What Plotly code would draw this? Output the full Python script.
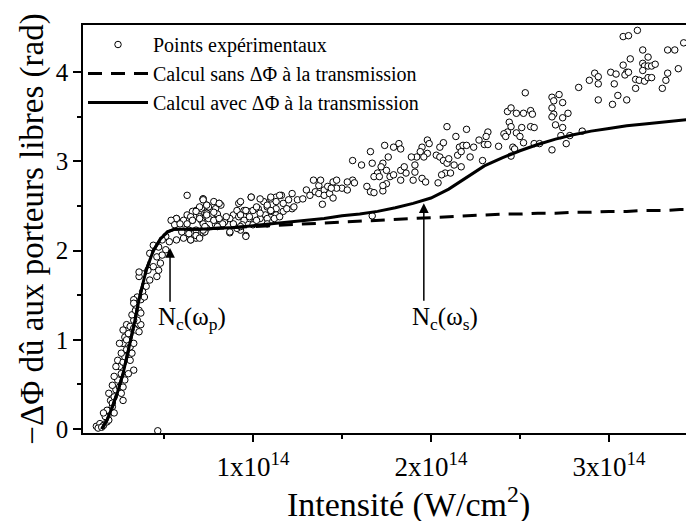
import plotly.graph_objects as go

FONT = "Liberation Serif, Times New Roman, Times, serif"

# ---- experimental points (x in units of 1e14 W/cm^2, y in rad) ----
pts_x = [
    # high-intensity region
    3.08, 3.11, 3.16, 3.19, 3.22, 3.33, 3.37, 3.42, 3.47, 3.12, 3.08, 3.19, 3.20, 3.22, 3.24, 3.26, 3.19,
    2.89, 2.92, 2.94, 2.94, 2.83, 3.01, 3.04, 3.03, 3.10, 3.09, 3.11, 3.15, 3.17, 3.20, 3.22, 3.24, 3.15,
    3.33, 3.32, 3.39, 3.30, 2.94, 3.02, 3.05, 3.10, 2.53, 2.68, 2.72, 2.69, 2.74, 2.68, 2.69, 2.77, 2.68,
    2.74, 2.70, 2.74, 2.73, 2.78, 2.85, 2.76, 2.68, 2.43, 2.45, 2.48, 2.52, 2.56, 2.57, 2.44, 2.45, 2.51,
    2.56, 2.58, 2.43, 2.41, 2.48, 2.42, 2.50, 2.52, 2.46, 2.47, 2.58, 2.61, 2.45, 2.32, 2.31, 2.30, 2.32,
    2.27, 2.38, 2.20, 2.14, 2.09, 2.29, 1.98, 1.99, 1.95, 1.94, 1.98, 1.92, 1.96, 2.03, 2.05, 2.07, 2.05,
    2.07, 2.09, 2.10, 2.13, 2.15, 2.16, 2.18, 2.20, 2.17, 2.22, 2.17, 2.24, 1.89, 1.91, 1.86, 1.83, 1.83,
    1.85, 1.82, 1.83, 1.79, 1.74, 1.76, 1.73, 1.72, 1.75, 1.70, 1.68, 1.64, 1.66, 1.68, 1.73, 1.75, 1.77,
    1.61, 1.67, 1.66, 1.56, 1.56, 1.57, 2.04, 2.08, 2.06, 2.11, 1.91, 1.95, 1.97, 1.90, 1.79, 1.73, 1.71,
    1.67,
    # middle region
    0.72, 0.71, 0.74, 0.76, 0.79, 0.81, 0.82, 0.73, 0.77, 0.80, 0.75, 0.78, 0.80, 0.71, 0.72, 0.74, 0.72,
    0.73, 0.82, 0.79, 0.92, 0.99, 0.89, 0.92, 0.95, 0.97, 1.00, 0.98, 0.95, 0.94, 0.87, 0.93, 0.96, 0.91,
    0.86, 0.84, 0.89, 1.03, 1.06, 1.08, 1.10, 1.13, 1.16, 1.17, 1.13, 1.10, 1.07, 1.04, 1.08, 1.13, 1.17,
    1.20, 1.22, 1.22, 1.23, 1.19, 1.12, 1.15, 1.25, 1.28, 1.30, 1.34, 1.37, 1.38, 1.40, 1.42, 1.45, 1.47,
    1.50, 1.53, 1.53, 1.35, 1.37, 1.40, 1.43, 1.45, 1.39, 1.32, 1.47, 1.44,
    # plateau start
    0.63, 0.72, 0.78, 0.81, 0.75, 0.68, 0.66, 0.63, 0.57, 0.70, 0.74, 0.78, 0.66, 0.61, 0.64, 0.68, 0.72,
    0.65, 0.68, 0.73, 0.78, 0.81, 0.83, 0.80, 0.93, 0.99, 1.04, 1.10, 1.15, 1.13, 1.08, 1.02, 0.96, 0.91,
    0.87, 0.93, 0.98, 1.04, 1.10, 0.87, 0.96, 0.93, 1.00, 0.85, 1.02, 1.08,
    # knee
    0.72, 0.70, 0.74, 0.68, 0.65, 0.61, 0.57, 0.54, 0.56, 0.59, 0.63, 0.66, 0.70, 0.74, 0.60, 0.64, 0.68,
    0.70, 0.65, 0.61, 0.57, 0.53, 0.51, 0.49, 0.47, 0.44, 0.42, 0.46, 0.49, 0.51, 0.48, 0.44, 0.41, 0.38,
    0.36, 0.46, 0.47, 0.42, 0.40, 0.38, 0.35, 0.33, 0.37, 0.39, 0.36,
    # steep rise
    0.12, 0.14, 0.16, 0.18, 0.13, 0.15, 0.19, 0.17, 0.20, 0.18, 0.21, 0.20, 0.19, 0.22, 0.23, 0.21, 0.25,
    0.24, 0.22, 0.26, 0.27, 0.25, 0.24, 0.27, 0.28, 0.26, 0.29, 0.31, 0.33, 0.27, 0.25, 0.28, 0.30, 0.27,
    0.29, 0.31, 0.33, 0.34, 0.36, 0.37, 0.35, 0.33, 0.32, 0.34, 0.34, 0.36, 0.37, 0.33, 0.27, 0.33, 0.31,
    0.30, 0.28, 0.23, 0.21, 0.16, 0.22, 0.26, 0.29, 0.32,
    # outlier
    0.465,
]
pts_y = [
    4.40, 4.41, 4.47, 4.25, 4.17, 4.25, 4.25, 4.33, 4.17, 4.15, 4.08, 4.10, 4.07, 4.07, 4.07, 4.09, 4.02,
    3.91, 3.99, 3.95, 3.87, 3.83, 4.00, 3.98, 3.87, 4.00, 3.97, 4.00, 3.92, 3.91, 3.90, 3.94, 3.94, 3.82,
    3.99, 3.91, 4.04, 3.82, 3.69, 3.64, 3.74, 3.69, 3.77, 3.72, 3.75, 3.68, 3.66, 3.60, 3.53, 3.54, 3.50,
    3.49, 3.41, 3.38, 3.29, 3.29, 3.34, 3.20, 3.13, 3.56, 3.60, 3.54, 3.54, 3.57, 3.53, 3.44, 3.39, 3.38,
    3.39, 3.38, 3.33, 3.31, 3.32, 3.28, 3.28, 3.21, 3.16, 3.14, 3.20, 3.20, 3.06, 3.33, 3.28, 3.19, 3.19,
    3.24, 3.17, 3.36, 3.28, 3.39, 3.01, 3.24, 3.20, 3.16, 3.11, 3.09, 3.05, 3.05, 3.07, 3.16, 3.21, 3.05,
    3.01, 2.98, 3.03, 2.96, 3.07, 3.16, 3.18, 3.18, 3.11, 3.05, 2.94, 3.16, 3.05, 2.96, 2.87, 2.79, 2.90,
    2.94, 3.20, 3.14, 3.16, 3.18, 3.05, 2.98, 2.94, 2.90, 2.87, 2.83, 2.72, 2.66, 2.65, 2.67, 2.75, 2.83,
    2.96, 2.98, 3.11, 3.01, 2.79, 2.76, 2.76, 2.87, 2.85, 2.87, 2.88, 2.81, 2.77, 2.79, 2.85, 2.73, 2.83,
    2.39,
    2.58, 2.47, 2.51, 2.45, 2.47, 2.53, 2.51, 2.42, 2.40, 2.41, 2.36, 2.34, 2.34, 2.34, 2.30, 2.25, 2.20,
    2.21, 2.32, 2.29, 2.53, 2.60, 2.40, 2.38, 2.45, 2.44, 2.45, 2.36, 2.34, 2.29, 2.20, 2.23, 2.17, 2.25,
    2.36, 2.32, 2.30, 2.47, 2.55, 2.49, 2.58, 2.60, 2.62, 2.53, 2.47, 2.44, 2.40, 2.36, 2.36, 2.40, 2.44,
    2.57, 2.64, 2.47, 2.49, 2.47, 2.36, 2.38, 2.57, 2.58, 2.68, 2.79, 2.73, 2.79, 2.68, 2.72, 2.77, 2.79,
    2.70, 2.77, 2.68, 2.66, 2.64, 2.62, 2.64, 2.59, 2.52, 2.62, 2.70, 2.70,
    2.62, 2.58, 2.55, 2.53, 2.49, 2.45, 2.44, 2.40, 2.36, 2.38, 2.42, 2.43, 2.34, 2.30, 2.23, 2.23, 2.23,
    2.12, 2.14, 2.27, 2.34, 2.36, 2.30, 2.27, 2.55, 2.60, 2.58, 2.60, 2.62, 2.55, 2.51, 2.49, 2.45, 2.45,
    2.36, 2.40, 2.38, 2.42, 2.45, 2.21, 2.16, 2.27, 2.29, 2.38, 2.34, 2.30,
    2.57, 2.49, 2.51, 2.44, 2.38, 2.34, 2.36, 2.34, 2.29, 2.30, 2.30, 2.34, 2.36, 2.40, 2.21, 2.19, 2.17,
    2.14, 2.12, 2.14, 2.12, 2.10, 2.16, 2.12, 2.04, 2.06, 1.97, 1.93, 1.95, 2.01, 1.86, 1.82, 1.78, 1.74,
    1.71, 1.71, 1.78, 1.67, 1.60, 1.54, 1.48, 1.45, 1.45, 1.48, 1.76,
    0.03, 0.06, 0.04, 0.08, 0.01, 0.02, 0.10, 0.14, 0.18, 0.21, 0.25, 0.32, 0.40, 0.36, 0.44, 0.49, 0.47,
    0.55, 0.59, 0.62, 0.47, 0.70, 0.77, 0.75, 0.81, 0.85, 0.89, 0.92, 0.96, 0.96, 0.96, 1.03, 1.07, 1.11,
    1.17, 1.15, 1.13, 1.11, 1.09, 1.17, 1.22, 1.22, 1.28, 1.33, 1.39, 1.33, 1.30, 1.41, 0.32, 0.66, 0.77,
    0.62, 0.55, 0.70, 0.29, 0.18, 0.18, 0.40, 1.00, 0.85,
    -0.02,
]

# ---- calculated curves ----
calc_x = [0.15, 0.18, 0.21, 0.24, 0.27, 0.30, 0.33, 0.36, 0.40, 0.44, 0.48, 0.52, 0.56, 0.62, 0.70,
          0.80, 0.90, 1.00, 1.10, 1.20, 1.30, 1.40, 1.50, 1.60, 1.70, 1.80, 1.90, 2.00, 2.10, 2.20,
          2.30, 2.40, 2.50, 2.60, 2.70, 2.80, 2.90, 3.00, 3.10, 3.20, 3.30, 3.40, 3.50]
calc_avec = [0.00, 0.10, 0.25, 0.42, 0.62, 0.88, 1.15, 1.45, 1.78, 2.00, 2.13, 2.21, 2.24, 2.24, 2.24,
             2.25, 2.26, 2.28, 2.30, 2.32, 2.34, 2.36, 2.39, 2.41, 2.44, 2.48, 2.53, 2.59, 2.69, 2.82,
             2.95, 3.04, 3.12, 3.19, 3.25, 3.30, 3.34, 3.37, 3.40, 3.42, 3.44, 3.46, 3.48]
calc_sans = [0.00, 0.10, 0.25, 0.42, 0.62, 0.88, 1.15, 1.45, 1.78, 2.00, 2.13, 2.21, 2.24, 2.24, 2.24,
             2.25, 2.26, 2.27, 2.28, 2.29, 2.30, 2.31, 2.32, 2.33, 2.34, 2.35, 2.36, 2.37, 2.38, 2.39,
             2.40, 2.41, 2.41, 2.42, 2.42, 2.43, 2.43, 2.44, 2.44, 2.45, 2.45, 2.46, 2.46]

tick_vals_x = [1, 2, 3]
tick_text_x = ["1x10<sup>14</sup>", "2x10<sup>14</sup>", "3x10<sup>14</sup>"]
tick_vals_y = [0, 1, 2, 3, 4]

fig = go.Figure()
fig.add_trace(go.Scatter(
    x=pts_x, y=pts_y, mode="markers", name="Points expérimentaux",
    marker=dict(symbol="circle", size=6.5, color="white", line=dict(color="black", width=1)),
))
fig.add_trace(go.Scatter(
    x=calc_x, y=calc_sans, mode="lines", name="Calcul sans ΔΦ à la transmission",
    line=dict(color="black", width=3, dash="14px,9px"),
))
fig.add_trace(go.Scatter(
    x=calc_x, y=calc_avec, mode="lines", name="Calcul avec ΔΦ à la transmission",
    line=dict(color="black", width=3),
))

# arrows
fig.add_annotation(x=0.534, y=2.03, ax=0.534, ay=1.41, xref="x", yref="y", axref="x", ayref="y",
                   text="", showarrow=True, arrowhead=2, arrowsize=1.3, arrowwidth=1.5, arrowcolor="black")
fig.add_annotation(x=1.96, y=2.53, ax=1.96, ay=1.42, xref="x", yref="y", axref="x", ayref="y",
                   text="", showarrow=True, arrowhead=2, arrowsize=1.3, arrowwidth=1.5, arrowcolor="black")
fig.add_annotation(x=0.66, y=1.24, xref="x", yref="y", showarrow=False,
                   text="N<sub>c</sub>(ω<sub>p</sub>)", font=dict(family=FONT, size=25, color="black"))
fig.add_annotation(x=2.08, y=1.24, xref="x", yref="y", showarrow=False,
                   text="N<sub>c</sub>(ω<sub>s</sub>)", font=dict(family=FONT, size=25, color="black"))
# x-axis title (placed slightly right of centre, as in the original)
fig.add_annotation(x=0.5335, y=0, xref="paper", yref="paper", yanchor="middle", yshift=-69,
                   showarrow=False, text="Intensité (W/cm<sup>2</sup>)",
                   font=dict(family=FONT, size=34, color="black"))

fig.update_layout(
    width=686, height=513,
    margin=dict(l=75, r=0, t=17, b=88),
    paper_bgcolor="white", plot_bgcolor="white",
    font=dict(family=FONT, color="black"),
    showlegend=True,
    legend=dict(x=0, y=1, xanchor="left", yanchor="top", bgcolor="rgba(0,0,0,0)",
                font=dict(family=FONT, size=20, color="black"), itemwidth=60,
                tracegroupgap=0),
    xaxis=dict(
        automargin=False,
        range=[0.045, 3.478], showline=True, linecolor="black", linewidth=1.5, mirror=True,
        showgrid=False, zeroline=False, ticks="outside", ticklen=7, tickwidth=1.5, tickcolor="black",
        tickvals=tick_vals_x, ticktext=tick_text_x, tickfont=dict(family=FONT, size=27, color="black"),
        ticklabelstandoff=2,
        minor=dict(tickvals=[0.5, 1.5, 2.5], ticks="outside", ticklen=4, tickwidth=1.5, tickcolor="black"),
    ),
    yaxis=dict(
        automargin=False,
        range=[-0.045, 4.53], showline=True, linecolor="black", linewidth=1.5,
        showgrid=False, zeroline=False, ticks="outside", ticklen=8, tickwidth=1.5, tickcolor="black",
        tickvals=tick_vals_y, tickfont=dict(family=FONT, size=25, color="black"),
        minor=dict(tickvals=[0.5, 1.5, 2.5, 3.5], ticks="outside", ticklen=4, tickwidth=1.5, tickcolor="black"),
        title=dict(text="−ΔΦ dû aux porteurs libres (rad)", font=dict(family=FONT, size=33, color="black"),
                   standoff=2),
    ),
)

fig.write_html("out.html")
